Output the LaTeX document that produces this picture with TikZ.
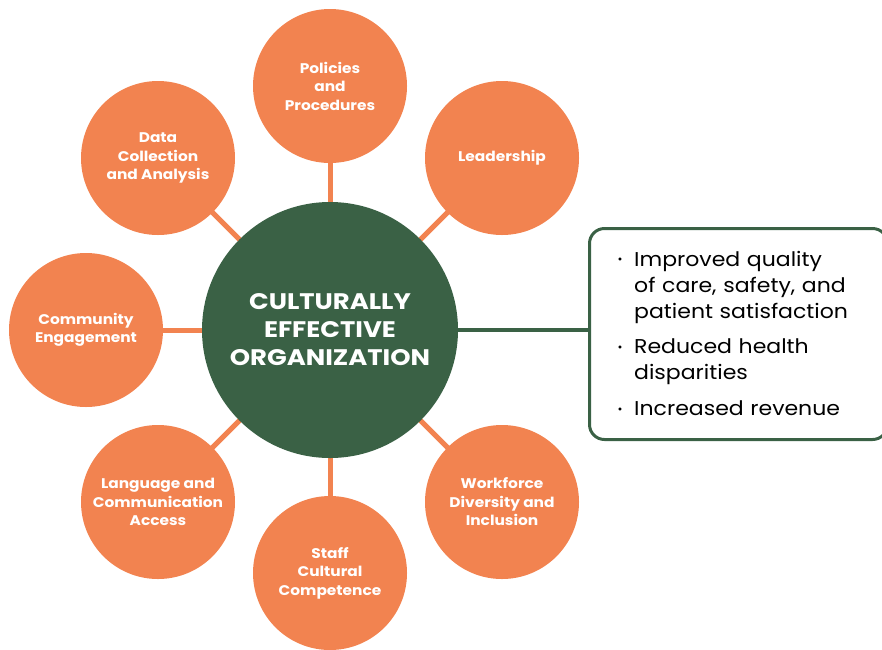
\documentclass[tikz,border=0pt]{standalone}
\usepackage{fontspec}
\setmainfont{Poppins}
\newfontfamily\hubfont[FakeStretch=1.15]{Poppins}
\newfontfamily\spokefont[FakeStretch=1.1]{Poppins}
\newfontfamily\boxfont[FakeStretch=1.1]{Poppins}
\usetikzlibrary{backgrounds}
\definecolor{orng}{RGB}{242,131,80}
\definecolor{dgreen}{RGB}{58,97,69}
\begin{document}
\begin{tikzpicture}[x=1pt,y=-1pt,
  hub/.style={circle,fill=dgreen,minimum size=256pt,inner sep=0pt,text=white,align=center,
    font=\hubfont\fontsize{22.5}{28}\selectfont\bfseries},
  spoke/.style={circle,fill=orng,minimum size=154pt,inner sep=0pt,text=white,align=center,
    font=\spokefont\fontsize{14}{18.5}\selectfont\bfseries},
  olink/.style={draw=orng,line width=5pt},
  glink/.style={draw=dgreen,line width=3.5pt},
  item/.style={anchor=base west,inner sep=0pt,align=left,text width=240pt,
    font=\boxfont\fontsize{20}{26}\selectfont},
  bul/.style={anchor=center,inner sep=0pt,font=\fontsize{12}{12}\selectfont}]
\useasboundingbox (0,0) rectangle (882,649);
\clip (0,0) rectangle (882,649);
\node[hub] (c) at (330,330) {CULTURALLY\\EFFECTIVE\\ORGANIZATION};
\node[spoke] (p) at (330,86) {Policies\\and\\Procedures};
\node[spoke] (l) at (502,158) {Leadership};
\node[spoke] (w) at (502,502) {Workforce\\Diversity and\\Inclusion};
\node[spoke] (s) at (330,573) {Staff\\Cultural\\Competence};
\node[spoke] (g) at (158,502) {Language and\\Communication\\Access};
\node[spoke] (e) at (86,330) {Community\\Engagement};
\node[spoke] (d) at (158,158) {Data\\Collection\\and Analysis};
\begin{scope}[on background layer]
\foreach \n in {p,l,w,s,g,e,d} {\draw[olink] (c.center) -- (\n.center);}
\end{scope}
\node[draw=dgreen,line width=3pt,rounded corners=15pt,minimum width=298pt,minimum height=211pt,anchor=north west] (b) at (588,227) {};
\coordinate (bw) at (588,330);
\draw[glink] (c.east) -- (bw);
\node[bul] (b1) at (620,261) {•};
\node[item] (t1) at (634,266) {Improved quality\\of care, safety, and\\patient satisfaction};
\node[bul] (b2) at (620,349) {•};
\node[item] (t2) at (634,353) {Reduced health\\disparities};
\node[bul] (b3) at (620,411) {•};
\node[item] (t3) at (634,415) {Increased revenue};
\end{tikzpicture}
\end{document}
